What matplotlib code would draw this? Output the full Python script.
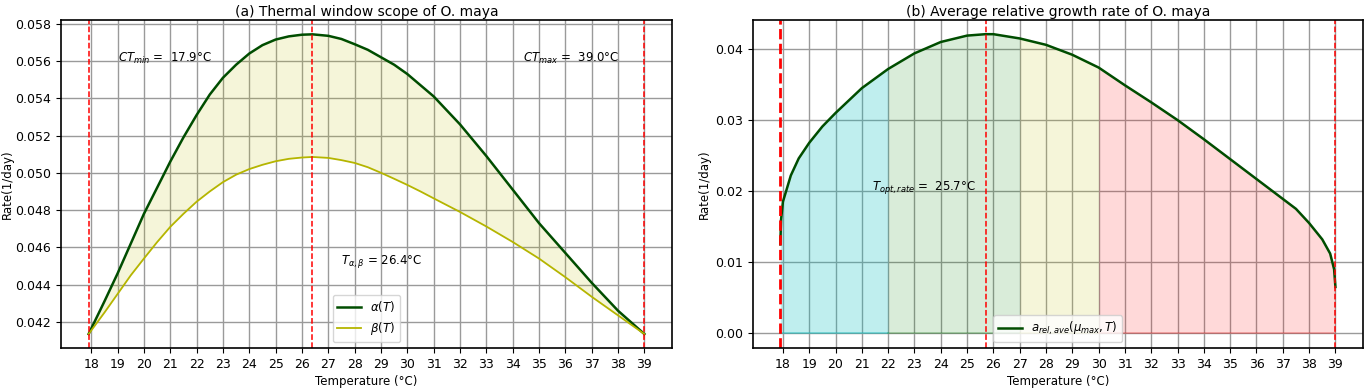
import matplotlib
matplotlib.use("Agg")
import matplotlib.pyplot as plt
import numpy as np

# ---- data ----
temp_a = [17.9, 18.5, 19, 19.5, 20, 20.5, 21, 21.5, 22, 22.5, 23, 23.5, 24, 24.5, 25, 25.5, 26, 26.4,
          27, 27.5, 28, 28.5, 29, 29.5, 30, 30.5, 31, 32, 33, 34, 35, 36, 37, 38, 39.0]
alpha_T = [0.04135, 0.0431, 0.0446, 0.0462, 0.0478, 0.0492, 0.0506, 0.0519, 0.0531, 0.0542, 0.0551,
           0.0558, 0.0564, 0.05685, 0.05715, 0.05732, 0.05741, 0.05743,
           0.05735, 0.05718, 0.0569, 0.0566, 0.0562, 0.0558, 0.0553, 0.0547,
           0.0541, 0.0526, 0.0509, 0.0491, 0.0473, 0.0457, 0.0441, 0.0426, 0.04135]
beta_T = [0.04135, 0.0425, 0.0435, 0.0445, 0.0454, 0.04628, 0.0471, 0.0478, 0.04845, 0.0490, 0.0495,
          0.0499, 0.0502, 0.05043, 0.05062, 0.05075, 0.05082, 0.05085,
          0.0508, 0.05068, 0.05053, 0.0503, 0.0500, 0.04968, 0.04935, 0.04900,
          0.04863, 0.04790, 0.04712, 0.04629, 0.0454, 0.04440, 0.04335, 0.04235, 0.04135]

CT_min = 17.9
CT_max = 39.0
T_ab = 26.4
T_opt = 25.7

temp_b = [17.9, 17.93, 18.0, 18.3, 18.6, 19, 19.5, 20, 21, 22, 23, 24, 25, 25.7, 26, 27, 28, 29, 30,
          31, 32, 33, 34, 35, 36, 37, 37.5, 38, 38.5, 38.8, 38.95, 39.0]
a_rel = [0.0125, 0.0160, 0.0185, 0.0222, 0.0246, 0.0268, 0.0291, 0.0310, 0.0345, 0.0372, 0.0394, 0.0410,
         0.0419, 0.0421, 0.0421, 0.0415, 0.0406, 0.0392, 0.0374, 0.0349, 0.0325, 0.0300, 0.0273, 0.0245,
         0.0217, 0.0189, 0.0175, 0.0155, 0.0132, 0.0112, 0.0090, 0.0065]

zone_edges = [17.9, 22, 27, 30, 39.0]
zone_colors = ['c', 'green', 'y', 'red']
zone_alphas = [0.25, 0.15, 0.15, 0.15]

xticks = list(range(18, 40))

# ---- figure ----
fig = plt.figure(figsize=(13.67, 3.88), dpi=100)
ax1 = fig.add_axes([0.0446, 0.1031, 0.447, 0.8454])
ax2 = fig.add_axes([0.5506, 0.1031, 0.4465, 0.8454])

# Panel (a)
ta = np.array(temp_a)
ax1.fill_between(ta, beta_T, alpha_T, color='y', alpha=0.15, linewidth=0)
ax1.plot(ta, alpha_T, color='#004d00', lw=1.8, label=r'$\alpha(T)$')
ax1.plot(ta, beta_T, color='#b5b500', lw=1.3, label=r'$\beta(T)$')
for v in (CT_min, T_ab, CT_max):
    ax1.axvline(v, color='red', ls='--', lw=1.1)
ax1.text(19.0, 0.05615, r'$CT_{min}$ =  %.1f°C' % CT_min, fontsize=8.5, va='center')
ax1.text(34.4, 0.05615, r'$CT_{max}$ =  %.1f°C' % CT_max, fontsize=8.5, va='center')
ax1.text(27.5, 0.04525, r'$T_{\alpha,\beta}$ = %.1f°C' % T_ab, fontsize=8.5, va='center')
ax1.set_xticks(xticks)
ax1.set_yticks([0.042, 0.044, 0.046, 0.048, 0.050, 0.052, 0.054, 0.056, 0.058])
ax1.set_xlim(16.85, 40.05)
ax1.set_ylim(0.0406, 0.0582)
ax1.grid(True, color='#9a9a9a', lw=1.0)
ax1.set_axisbelow(True)
ax1.set_title('(a) Thermal window scope of O. maya', fontsize=10, pad=3)
ax1.set_xlabel('Temperature (°C)', fontsize=8.5, labelpad=3)
ax1.set_ylabel('Rate(1/day)', fontsize=8.5, labelpad=1)
ax1.tick_params(labelsize=9)
ax1.legend(loc='lower center', fontsize=8.5)

# Panel (b)
tb = np.array(temp_b)
ab = np.array(a_rel)
for lo, hi, c, al in zip(zone_edges[:-1], zone_edges[1:], zone_colors, zone_alphas):
    m = (tb >= lo) & (tb <= hi)
    ax2.fill_between(tb[m], 0, ab[m], color=c, alpha=al, linewidth=0)
    ax2.plot([lo, hi], [0, 0], color=c, alpha=al * 1.6, lw=1.2)
ax2.plot(tb, ab, color='#004d00', lw=1.8, label=r'$a_{rel,ave}(\mu_{max},T)$')
ax2.axvline(CT_min, color='red', ls='--', lw=2.0)
ax2.axvline(T_opt, color='red', ls='--', lw=1.1)
ax2.axvline(CT_max, color='red', ls='--', lw=1.1)
ax2.text(21.4, 0.0205, r'$T_{opt,rate}$ =  %.1f°C' % T_opt, fontsize=8.5, va='center')
ax2.set_xticks(xticks)
ax2.set_yticks([0.00, 0.01, 0.02, 0.03, 0.04])
ax2.set_xlim(16.85, 40.05)
ax2.set_ylim(-0.0021, 0.0441)
ax2.grid(True, color='#9a9a9a', lw=1.0)
ax2.set_axisbelow(True)
ax2.set_title('(b) Average relative growth rate of O. maya', fontsize=10, pad=3)
ax2.set_xlabel('Temperature (°C)', fontsize=8.5, labelpad=3)
ax2.set_ylabel('Rate(1/day)', fontsize=8.5, labelpad=3)
ax2.tick_params(labelsize=9)
ax2.legend(loc='lower center', fontsize=8.5)

for ax in (ax1, ax2):
    for s in ax.spines.values():
        s.set_linewidth(1.2)

fig.savefig('out.png', dpi=100)
